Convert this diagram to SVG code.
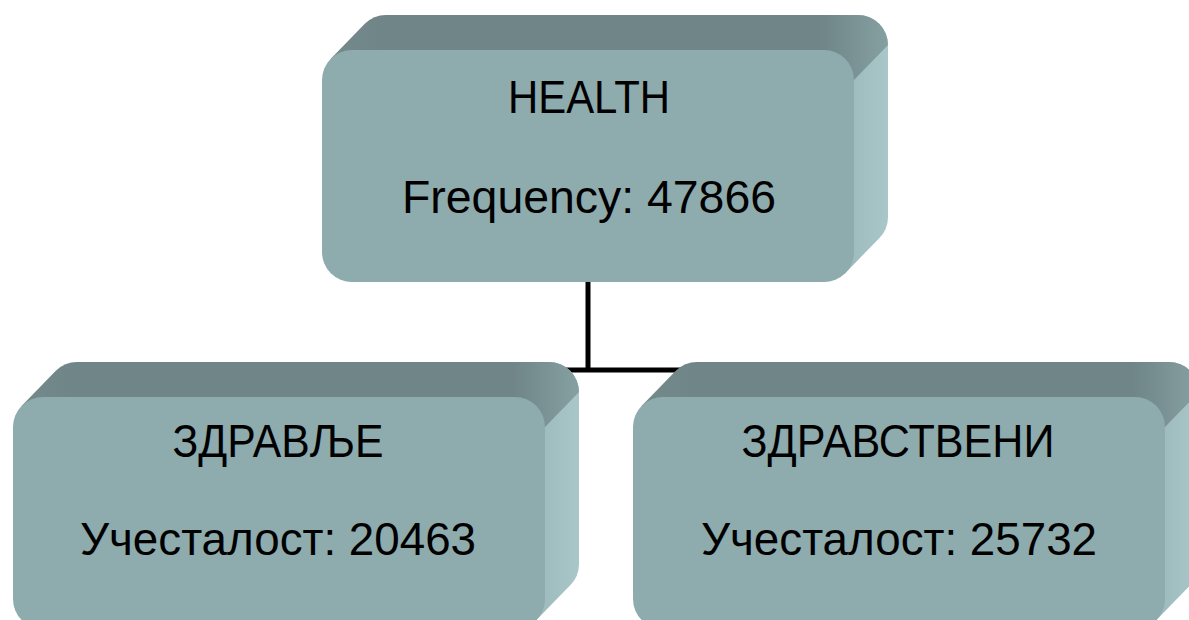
<svg xmlns="http://www.w3.org/2000/svg" xmlns:xlink="http://www.w3.org/1999/xlink" width="1189" height="620" viewBox="0 0 1189 620">
  <style>
    .lbl { font-family: "Liberation Sans", Arial, sans-serif; font-size: 46px; fill: #000; text-anchor: middle; }
    .conn { stroke: #000; stroke-width: 5; fill: none; }
    .front { fill: #8eabad; }
    .top { fill: url(#topGrad); }
    .side { fill: url(#sideGrad); }
  </style>
  <defs>
    <linearGradient id="sideGrad" x1="0" y1="0" x2="1" y2="0">
      <stop offset="0" stop-color="#85a0a2"/>
      <stop offset="0.5" stop-color="#9cb9bb"/>
      <stop offset="1" stop-color="#a9c6c8"/>
    </linearGradient>
    <linearGradient id="topGrad" x1="0" y1="0" x2="1" y2="0">
      <stop offset="0" stop-color="#74898b"/>
      <stop offset="0.1" stop-color="#6f8587"/>
      <stop offset="0.88" stop-color="#6f8587"/>
      <stop offset="1" stop-color="#86a0a2"/>
    </linearGradient>
    <g id="box">
      <path class="side" d="M536,-35 A30 30 0 0 1 566,-5 L566,167 A30 30 0 0 1 557.2,188.2 L523.2,223.2 L480,150 L480,-35 Z"/>
      <path class="top" d="M8.8,8.8 L42.8,-26.2 A30 30 0 0 1 64,-35 L536,-35 A30 30 0 0 1 566,-5 L532,30 L30,30 Z"/>
      <rect class="front" x="0" y="0" width="532" height="232" rx="30" ry="30"/>
    </g>
  </defs>

  <g id="connectors">
    <path class="conn" d="M588,280 L588,370"/>
    <path class="conn" d="M279,370 L899,370"/>
  </g>

  <g id="node-health">
    <use xlink:href="#box" x="322" y="50"/>
    <text class="lbl" x="589" y="113" textLength="162" lengthAdjust="spacingAndGlyphs">HEALTH</text>
    <text class="lbl" x="589" y="213" textLength="374" lengthAdjust="spacingAndGlyphs">Frequency: 47866</text>
  </g>

  <g id="node-zdravlje">
    <use xlink:href="#box" x="13" y="397"/>
    <text class="lbl" x="278" y="457" textLength="211" lengthAdjust="spacingAndGlyphs">ЗДРАВЉЕ</text>
    <text class="lbl" x="278" y="555" textLength="396" lengthAdjust="spacingAndGlyphs">Учесталост: 20463</text>
  </g>

  <g id="node-zdravstveni">
    <use xlink:href="#box" x="633" y="397"/>
    <text class="lbl" x="898" y="457" textLength="313" lengthAdjust="spacingAndGlyphs">ЗДРАВСТВЕНИ</text>
    <text class="lbl" x="899" y="555" textLength="396" lengthAdjust="spacingAndGlyphs">Учесталост: 25732</text>
  </g>
</svg>
